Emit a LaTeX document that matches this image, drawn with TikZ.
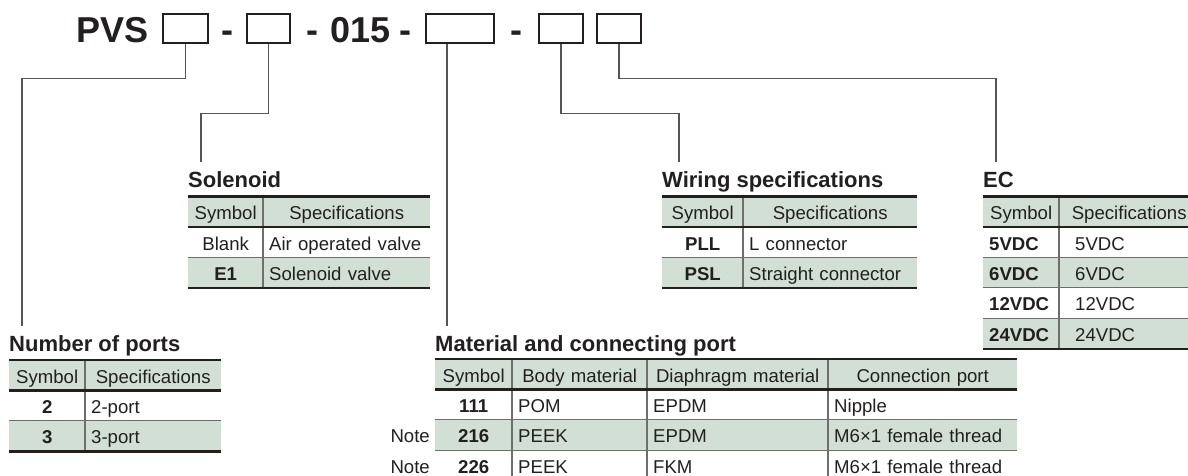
\documentclass[tikz,border=0pt]{standalone}
\usepackage{fontspec}
\setmainfont{Liberation Sans}
\usepackage{tikz}
\usetikzlibrary{matrix}

\definecolor{ink}{RGB}{35,31,32}
\definecolor{rowshade}{RGB}{210,223,213}
\definecolor{leader}{RGB}{85,85,85}
\definecolor{sepgray}{RGB}{110,110,110}

\newcommand{\tabfont}{\fontsize{18.6}{21}\selectfont}
\newcommand{\headfont}{\fontsize{22}{24}\selectfont\bfseries}
\newcommand{\codefont}{\fontsize{36}{40}\selectfont\bfseries}

\newcommand{\ruletable}[3]{%
  \foreach \c in {2,...,#3} {\draw[colrule] (#1-1-\c.north west) -- (#1-#2-\c.south west);}
  \foreach \r in {2,...,#2} {\draw[lightrule] (#1-\r-1.north west) -- (#1-\r-#3.north east);}
  \draw[heavyrule] (#1.north west) -- (#1.north east);
  \draw[heavyrule] (#1-2-1.north west) -- (#1-2-#3.north east);
  \draw[heavyrule] (#1.south west) -- (#1.south east);
}

\tikzset{
  spectable/.style={%
    matrix of nodes,
    row sep=0pt,
    column sep=0pt,
    inner sep=0pt,
    anchor=north west,
    nodes={inner xsep=6pt, inner ysep=0pt, text height=17pt, text depth=1.5pt,
           minimum height=30.4pt, font=\tabfont, text=ink},
    every odd row/.style={nodes={fill=rowshade}},
    row 1/.style={nodes={align=center, font=\tabfont}}
  },
  symcol/.style={nodes={text width=#1, align=center, font=\tabfont\bfseries}},
  speccol/.style={nodes={text width=#1, align=left}},
  heavyrule/.style={draw=ink, line width=2.4pt},
  lightrule/.style={draw=sepgray, line width=1pt},
  colrule/.style={draw=sepgray, line width=1.4pt},
  codebox/.style={draw=ink, line width=1.6pt, minimum height=29pt, inner sep=0pt},
  codetext/.style={anchor=base west, inner sep=0pt, font=\codefont, text=ink},
  codedash/.style={anchor=base, inner sep=0pt, font=\codefont, text=ink},
  leadline/.style={draw=leader, line width=1.1pt},
  tabhead/.style={anchor=base west, inner sep=0pt, font=\headfont, text=ink},
  notelabel/.style={anchor=base east, inner sep=0pt, font=\tabfont, text=ink}
}

\begin{document}
\begin{tikzpicture}[x=1pt, y=-1pt]
    \useasboundingbox (0,0) rectangle (1188,475);

    \node[codetext] (series) at (76,42) {PVS};
    \node[codebox, minimum width=45pt] (box1) at (185.5,28.5) {};
    \node[codedash] (dash1) at (227,42) {-};
    \node[codebox, minimum width=43pt] (box2) at (268.5,28.5) {};
    \node[codedash] (dash2) at (312,42) {-};
    \node[codetext] (size) at (330,42) {015};
    \node[codedash] (dash3) at (405,42) {-};
    \node[codebox, minimum width=68pt] (box3) at (460,28.5) {};
    \node[codedash] (dash4) at (516.5,42) {-};
    \node[codebox, minimum width=44pt] (box4) at (561,28.5) {};
    \node[codebox, minimum width=44pt] (box5) at (619,28.5) {};

    \matrix (ports) [%
      spectable,
      column 1/.style={symcol=64pt},
      column 2/.style={speccol=124pt}
    ] at (9,360) {%
      Symbol & Specifications \\
      2      & 2-port \\
      3      & 3-port \\
    };

    \matrix (solenoid) [%
      spectable,
      column 1/.style={symcol=63pt},
      column 2/.style={speccol=155pt}
    ] at (188,196.5) {%
      Symbol & Specifications \\
      |[font=\tabfont]| Blank & Air operated valve \\
      E1     & Solenoid valve \\
    };

    \matrix (wiring) [%
      spectable,
      column 1/.style={symcol=69pt},
      column 2/.style={speccol=162pt}
    ] at (662,196.5) {%
      Symbol & Specifications \\
      PLL    & L connector \\
      PSL    & Straight connector \\
    };

    \matrix (ec) [%
      spectable,
      column 1/.style={nodes={text width=64pt, align=left, font=\tabfont\bfseries}},
      column 2/.style={speccol=128pt}
    ] at (983,196.5) {%
      Symbol & Specifications \\
      5VDC   & \hspace*{10pt}5VDC \\
      6VDC   & \hspace*{10pt}6VDC \\
      12VDC  & \hspace*{10pt}12VDC \\
      24VDC  & \hspace*{10pt}24VDC \\
    };

    \matrix (material) [%
      spectable,
      column 1/.style={symcol=65pt},
      column 2/.style={speccol=123pt},
      column 3/.style={speccol=169pt},
      column 4/.style={speccol=177pt}
    ] at (435,359) {%
      Symbol & Body material & Diaphragm material & Connection port \\
      111    & POM           & EPDM               & Nipple \\
      216    & PEEK          & EPDM               & M6×1 female thread \\
      226    & PEEK          & FKM                & M6×1 female thread \\
    };

    \ruletable{ports}{3}{2}
    \ruletable{solenoid}{3}{2}
    \ruletable{wiring}{3}{2}
    \ruletable{ec}{5}{2}
    \ruletable{material}{4}{4}

    \node[tabhead] (portshead)    at ([yshift=9pt]ports.north west)    {Number of ports};
    \node[tabhead] (solenoidhead) at ([yshift=9pt]solenoid.north west) {Solenoid};
    \node[tabhead] (wiringhead)   at ([yshift=9pt]wiring.north west)   {Wiring specifications};
    \node[tabhead] (echead)       at ([yshift=9pt]ec.north west)       {EC};
    \node[tabhead] (materialhead) at ([yshift=8pt]material.north west) {Material and connecting port};

    \node[notelabel] (note1) at ([xshift=-5pt]material-3-1.base west) {Note};
    \node[notelabel] (note2) at ([xshift=-5pt]material-4-1.base west) {Note};

    \coordinate (portsend)    at (22,326);
    \coordinate (solenoidend) at (201,162);
    \coordinate (materialend) at (447,326);
    \coordinate (wiringend)   at (679,162);
    \coordinate (ecend)       at (996,162);

    \draw[leadline] (box1.south) -- ++(0,35) -| (portsend);
    \draw[leadline] (box2.south) -- ++(0,70) -| (solenoidend);
    \draw[leadline] (box3.south -| materialend) -- (materialend);
    \draw[leadline] (box4.south) -- ++(0,70) -| (wiringend);
    \draw[leadline] (box5.south) -- ++(0,35) -| (ecend);
\end{tikzpicture}
\end{document}
